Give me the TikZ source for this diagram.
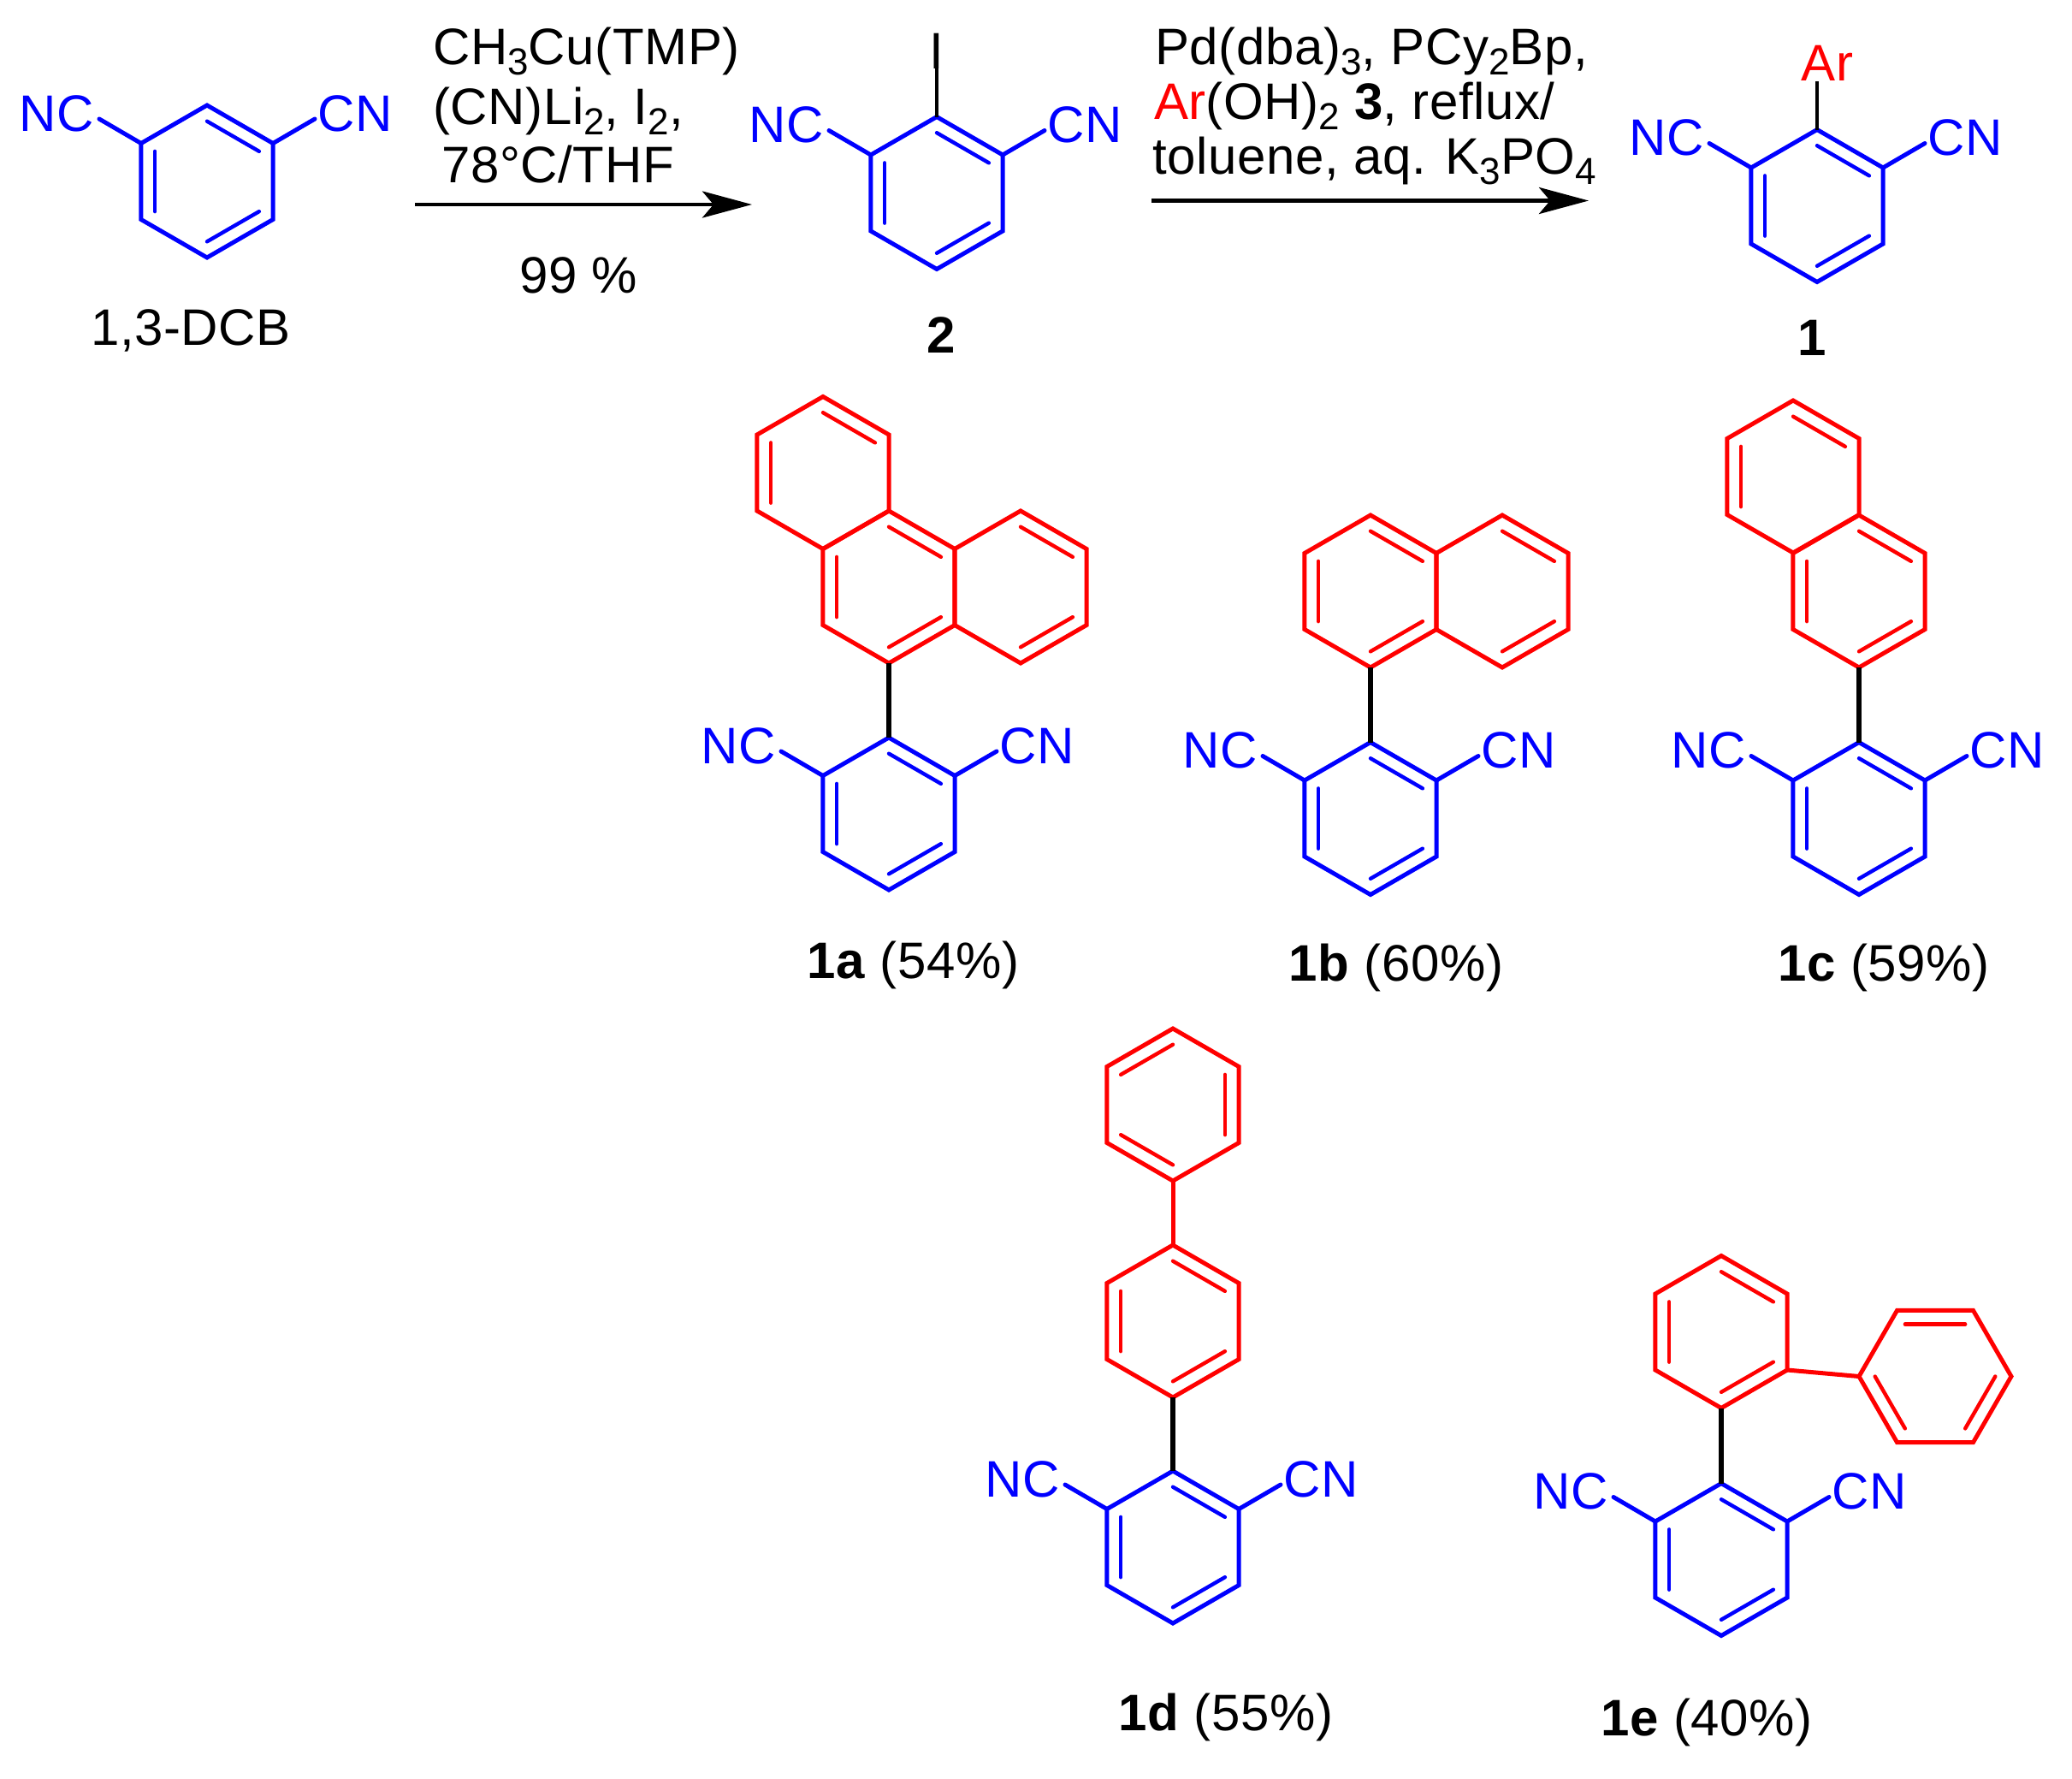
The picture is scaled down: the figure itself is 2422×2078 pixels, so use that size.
\documentclass[tikz,border=0pt]{standalone}
\usepackage{fontspec}
\setmainfont{Liberation Sans}[Kerning=Off,LetterSpace=1]
\usetikzlibrary{calc,arrows.meta}

\newcommand{\lowtxt}[1]{\raisebox{-12pt}{\fontsize{44}{44}\selectfont #1}}

\newcommand{\benzring}[6][0]{
    \coordinate (#2) at (#3,#4);
    \foreach \k in {1,...,6}
        \coordinate (#2-\k) at ($(#2)+({-90+60*(\k-1)+#1}:89)$);
    \draw[bond,#5] (#2-1) -- (#2-2) -- (#2-3) -- (#2-4) -- (#2-5) -- (#2-6) -- cycle;
    \foreach \k in {#6} {
        \pgfmathtruncatemacro{\n}{mod(\k,6)+1}
        \draw[innerbond,#5] ($(#2)!0.79!(#2-\k)$) -- ($(#2)!0.79!(#2-\n)$);
    }
}

\newcommand{\cyanoring}[3]{
    \benzring{#1}{#2}{#3}{blue}{1,3,5}
    \node [cyano] (#1-nc) at ($(#1)+(-220,-59)$) {NC};
    \node [cyano] (#1-cn) at ($(#1)+(129,-59)$) {CN};
    \coordinate (#1-l) at ($(#1)+(-126,-73)$);
    \coordinate (#1-r) at ($(#1)+(126,-73)$);
    \draw[stub] (#1-6) -- (#1-l);
    \draw[stub] (#1-2) -- (#1-r);
}

\begin{document}
\begin{tikzpicture}[x=1pt,y=-1pt,
            bond/.style={line width=5pt,line join=miter},
            innerbond/.style={line width=4.4pt,line cap=round},
            stub/.style={line width=5pt,blue,line cap=round},
            link/.style={line width=5.2pt,black},
            thinlink/.style={line width=4.2pt,black},
            redlink/.style={line width=5pt,red},
            txt/.style={inner sep=0pt,anchor=base west,font=\fontsize{60}{60}\selectfont},
            cyano/.style={txt,text=blue},
            atom/.style={txt,anchor=base},
            rxn/.style={line width=4.8pt,-{Stealth[length=58pt,width=31pt,inset=13pt]}}]

    \useasboundingbox (0,0) rectangle (2422,2078);

    \cyanoring{dcb}{242}{212}
    \node [txt] (dcbname) at (106,403) {1,3-DCB};

    \node [txt] (r1) at (506,75) {CH\lowtxt{3}Cu(TMP)};
    \node [txt] (r2) at (506,145) {(CN)Li\lowtxt{2}, I\lowtxt{2},};
    \node [txt] (r3) at (516,213) {78°C/THF};
    \node [txt] (r4) at (607,342) {99 \%};
    \coordinate (a1s) at (485,239);
    \coordinate (a1e) at (879,239);
    \draw[rxn] (a1s) -- (a1e);

    \cyanoring{two}{1095}{225.5}
    \node [atom] (iodo) at (1095,80) {I};
    \coordinate (iodob) at (1095,80);
    \draw[thinlink] (iodob) -- (two-1);
    \node [txt,font=\fontsize{60}{60}\selectfont\bfseries,anchor=base] (twoname) at (1100,412) {2};

    \node [txt] (r5) at (1350,75) {Pd(dba)\lowtxt{3}, PCy\lowtxt{2}Bp,};
    \node [txt] (r6) at (1349,139) {\textcolor{red}{Ar}(OH)\lowtxt{2} \textbf{3}, reflux/};
    \node [txt] (r7) at (1347,203) {toluene, aq. K\lowtxt{3}PO\lowtxt{4}};
    \coordinate (a2s) at (1346,234.5);
    \coordinate (a2e) at (1857,234.5);
    \draw[rxn] (a2s) -- (a2e);

    \cyanoring{one}{2124}{240.5}
    \node [atom,text=red] (ar) at (2136,94) {Ar};
    \coordinate (arb) at (2124,95);
    \draw[thinlink] (arb) -- (one-1);
    \node [txt,font=\fontsize{60}{60}\selectfont\bfseries,anchor=base] (onename) at (2118,415) {1};

    \cyanoring{a}{1039}{951}
    \benzring{ap}{1039}{686}{red}{1,3,5}
    \benzring{aq}{1193}{686}{red}{1,3}
    \benzring{ar}{962}{552.5}{red}{1,5}
    \draw[link] (ap-4) -- (a-1);
    \node [txt] (aname) at (943,1143) {\textbf{1a} (54\%)};

    \cyanoring{b}{1602}{956.5}
    \benzring{bp}{1602}{691}{red}{1,3,5}
    \benzring{bq}{1756}{691}{red}{1,3}
    \draw[link] (bp-4) -- (b-1);
    \node [txt] (bname) at (1506,1146) {\textbf{1b} (60\%)};

    \cyanoring{c}{2173}{956.5}
    \benzring{cp}{2173}{691}{red}{1,3,5}
    \benzring{cq}{2096}{557}{red}{1,5}
    \draw[link] (cp-4) -- (c-1);
    \node [txt] (cname) at (2078,1146) {\textbf{1c} (59\%)};

    \cyanoring{d}{1371}{1808}
    \benzring{dp}{1371}{1544}{red}{1,3,5}
    \benzring{dq}{1371}{1291}{red}{2,4,6}
    \draw[link] (dp-4) -- (d-1);
    \draw[redlink] (dq-4) -- (dp-1);
    \node [txt] (dname) at (1307,2022) {\textbf{1d} (55\%)};

    \cyanoring{e}{2012}{1822.5}
    \benzring{ep}{2012}{1556.5}{red}{1,3,5}
    \benzring[-30]{eq}{2262}{1608.5}{red}{1,3,5}
    \draw[link] (ep-4) -- (e-1);
    \draw[redlink] (ep-3) -- (eq-6);
    \node [txt] (ename) at (1871,2028) {\textbf{1e} (40\%)};
\end{tikzpicture}
\end{document}
